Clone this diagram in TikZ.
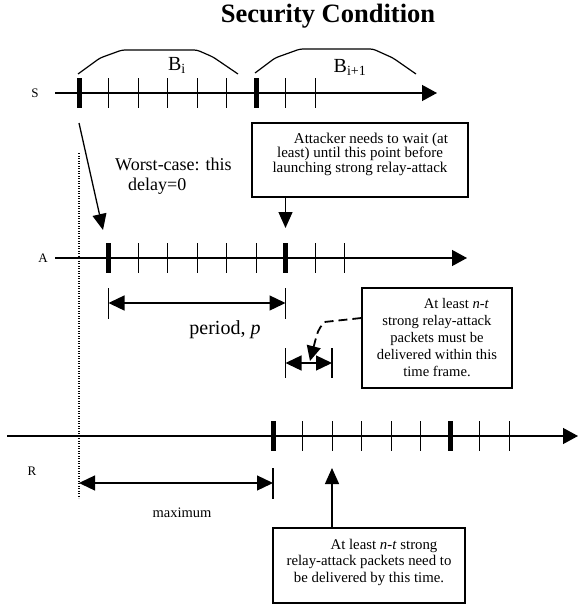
\documentclass[tikz,border=0pt]{standalone}
\usepackage{fontspec}
\setmainfont{Liberation Serif}
\usetikzlibrary{arrows.meta, positioning}

\newcommand{\fsz}[2]{\fontsize{#1}{#2}\selectfont}

\tikzset{
  timeline/.style={line width=1.3pt, -{Triangle[length=15pt,width=16pt]}},
  slot/.style={line width=1pt},
  leadslot/.style={line width=5pt},
  pointer/.style={line width=1.3pt, -{Triangle[length=16pt,width=14pt]}},
  span/.style={line width=1.3pt, {Triangle[length=16pt,width=15pt]}-{Triangle[length=16pt,width=15pt]}},
  endbar/.style={line width=1.2pt},
  dashline/.style={line width=1.8pt, dash pattern=on 9pt off 5pt, -{Triangle[length=15pt,width=14pt]}},
  batch/.style={line width=1.2pt, rounded corners=3pt},
  notebox/.style={draw, line width=1.3pt, align=center, inner sep=0pt},
  linelabel/.style={font=\fsz{13}{15}}
}

\begin{document}
\begin{tikzpicture}[x=1pt, y=-1pt]
\useasboundingbox (0,0) rectangle (579,605);

\node[font=\fsz{26.5}{30}\bfseries, anchor=base] (title) at (328,22) {Security Condition};

% the three time lines
\node[linelabel] (slab) at (35,93) {S};
\node[linelabel] (alab) at (43,258) {A};
\node[linelabel] (rlab) at (32,471) {R};
\coordinate (sfrom) at (55,93);  \coordinate (sto) at (437,93);
\coordinate (afrom) at (55,258); \coordinate (ato) at (467,258);
\coordinate (rfrom) at (7,436);  \coordinate (rto) at (578,436);
\draw[timeline] (sfrom) -- (sto);
\draw[timeline] (afrom) -- (ato);
\draw[timeline] (rfrom) -- (rto);

% packet slots, a thick one starts each batch
\foreach \tl/\x/\y in {s/79/93, a/108.5/258, r/273/436} {
  \foreach \k in {0,...,8}
    \coordinate (\tl\k) at ({\x+29.5*\k},\y);
  \foreach \k in {1,2,3,4,5,7,8}
    \draw[slot] ([yshift=15pt]\tl\k) -- ([yshift=-15pt]\tl\k);
  \foreach \k in {0,6}
    \draw[leadslot] ([yshift=15pt]\tl\k) -- ([yshift=-15pt]\tl\k);
}

% batches on S
\draw[batch] (78,74) -- (100,58) -- (122,50) -- (197,50) -- (213,57) -- (238,74);
\node[font=\fsz{20}{24}, anchor=base] (bi) at (177,70) {B\textsubscript{i}};
\draw[batch] (255,73) -- (275,58) -- (300,49) -- (373,49) -- (393,58) -- (416,74);
\node[font=\fsz{20}{24}, anchor=base] (bnext) at (350,72) {B\textsubscript{i+1}};

% S to A
\coordinate (sleave) at (79,123);
\coordinate (aarrive) at (103,230);
\draw[pointer] (sleave) -- (aarrive);
\node[font=\fsz{18}{20}, align=left, anchor=west, inner sep=0pt] (worst) at (115,176)
  {Worst-case: this\\\hspace*{13pt}delay=0};

\coordinate (dtop) at (79,153);
\coordinate (dbot) at (79,498);
\draw[line width=1.2pt, dash pattern=on 1.2pt off 1.3pt] (dtop) -- (dbot);

% attacker waits
\node[notebox, minimum width=216pt, minimum height=74pt, text depth=15pt, font=\fsz{15}{14.5}] (waitbox) at (360,160)
  {\hspace*{22pt}Attacker needs to wait (at\\least) until this point before\\launching strong relay-attack};
\coordinate (await) at (285.5,228);
\draw[pointer] (waitbox.south -| await) -- (await);

% period
\coordinate (pl) at (108.5,303);
\coordinate (pr) at (285.5,303);
\draw[endbar] ([yshift=15pt]pl) -- ([yshift=-16pt]pl);
\draw[endbar] ([yshift=15pt]pr) -- ([yshift=-16pt]pr);
\draw[span] (pl) -- (pr);
\node[font=\fsz{20}{24}, anchor=base] (period) at (225,334) {period, \textit{p}};

% time frame
\node[notebox, minimum width=150pt, minimum height=100pt, font=\fsz{14.6}{17}] (framebox) at (437,338)
  {\hspace*{39pt}At least \textit{n-t}\\strong relay-attack\\packets must be\\delivered within this\\time frame.};
\coordinate (fl) at (285.5,363);
\coordinate (fr) at (332,363);
\draw[endbar] ([yshift=15pt]fl) -- ([yshift=-15pt]fl);
\draw[endbar] ([yshift=15pt]fr) -- ([yshift=-15pt]fr);
\draw[span] (fl) -- (fr);
\coordinate (fhit) at (310,361);
\draw[dashline] ([yshift=20pt]framebox.west) -- ++(-37,4) .. controls (318,330) .. (fhit);

% maximum delay
\coordinate (ml) at (79,483);
\coordinate (mr) at (273,483);
\draw[endbar] ([yshift=15pt]mr) -- ([yshift=-16pt]mr);
\draw[span] (ml) -- (mr);
\node[font=\fsz{14.5}{17}, anchor=base] (maxlab) at (182,517) {maximum};

% deadline
\node[notebox, minimum width=192pt, minimum height=75pt, text depth=10pt, font=\fsz{14.8}{16.5}] (duebox) at (369,565.5)
  {\hspace*{30pt}At least \textit{n-t} strong\\relay-attack packets need to\\be delivered by this time.};
\coordinate (rdue) at (332,468);
\draw[pointer] (duebox.north -| rdue) -- (rdue);
\end{tikzpicture}
\end{document}
